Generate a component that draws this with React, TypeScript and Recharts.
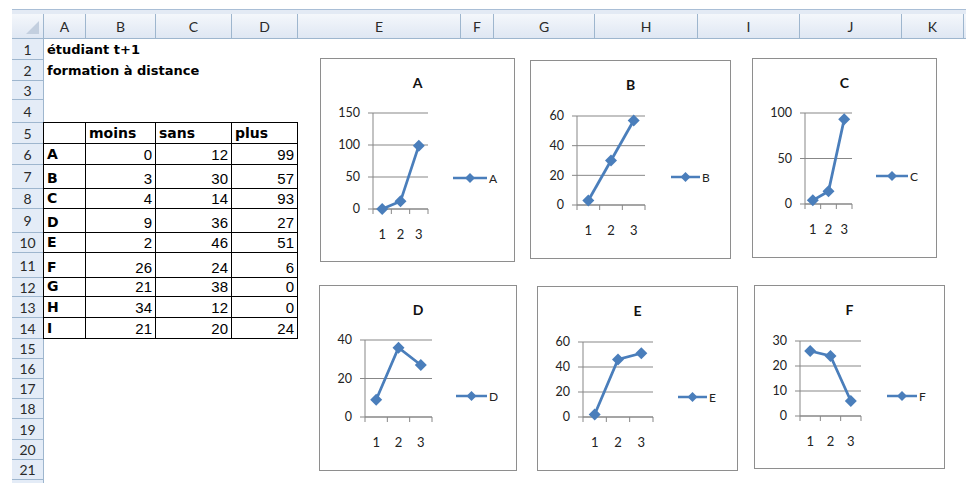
import React from 'react';
import { LineChart, Line, XAxis, YAxis, CartesianGrid, Legend } from 'recharts';

// table values (rows A..I)
const rowLabels = ['A', 'B', 'C', 'D', 'E', 'F', 'G', 'H', 'I'];
const moins = [0, 3, 4, 9, 2, 26, 21, 34, 21];
const sans = [12, 30, 14, 36, 46, 24, 38, 12, 20];
const plus = [99, 57, 93, 27, 51, 6, 0, 0, 24];
const columnHeads = ['moins', 'sans', 'plus'];
const sheetTitle = ['étudiant t+1', 'formation à distance'];

// chart axes
const xCategories = [1, 2, 3];
const ticksA = [0, 50, 100, 150];
const ticksB = [0, 20, 40, 60];
const ticksC = [0, 50, 100];
const ticksD = [0, 20, 40];
const ticksE = [0, 20, 40, 60];
const ticksF = [0, 10, 20, 30];

// sheet grid
const colLetters = ['A', 'B', 'C', 'D', 'E', 'F', 'G', 'H', 'I', 'J', 'K', ''];
const colEdges = [44, 86, 156, 232, 298, 461, 494, 595, 698, 800, 902, 964, 1000];
const rowEdges = [39, 60, 81, 100, 123, 144, 165, 189, 209, 233, 253, 278, 297, 318, 339, 359, 379, 399, 419, 440, 460, 480, 501];

const SHEET_FONT = '"DejaVu Sans", Verdana, sans-serif';
const NUM_FONT = '"Liberation Sans Narrow", "Liberation Sans", Arial, sans-serif';
const UI_FONT = 'Lato, Calibri, "Open Sans", sans-serif';
const BLUE = '#4A7EBB';
const GRID = '#878787';
const HDR_BORDER = '#9EB6CE';
const HDR_BG = 'linear-gradient(#f4f7fb, #dfe7f3)';
const ROW_BG = '#e4ecf7';

// layout of the six chart objects (box in page px, plot/legend relative to box)
const CHARTS = [
  { idx: 0, ticks: ticksA, box: { x: 320, y: 58, w: 195, h: 204 }, plot: { l: 53, r: 108, t: 55, b: 151 }, lg: { x: 133, y: 120, len: 34 } },
  { idx: 1, ticks: ticksB, box: { x: 530, y: 60, w: 201, h: 199 }, plot: { l: 47, r: 115, t: 56, b: 145 }, lg: { x: 141, y: 117, len: 29 } },
  { idx: 2, ticks: ticksC, box: { x: 752, y: 58, w: 185, h: 200 }, plot: { l: 53, r: 100, t: 55, b: 146 }, lg: { x: 124, y: 118, len: 32 } },
  { idx: 3, ticks: ticksD, box: { x: 319, y: 285, w: 198, h: 186 }, plot: { l: 46, r: 113, t: 55, b: 132 }, lg: { x: 137, y: 111, len: 31 } },
  { idx: 4, ticks: ticksE, box: { x: 537, y: 286, w: 201, h: 185 }, plot: { l: 46, r: 116, t: 56, b: 131 }, lg: { x: 141, y: 111, len: 29 } },
  { idx: 5, ticks: ticksF, box: { x: 754, y: 285, w: 191, h: 184 }, plot: { l: 46, r: 107, t: 56, b: 131 }, lg: { x: 133, y: 111, len: 30 } },
];

const xTicks = [...xCategories.map((c) => c - 0.5), ...xCategories, xCategories[xCategories.length - 1] + 0.5].sort((a, b) => a - b);

const diamond = (cx: number, cy: number, r: number) =>
  `${cx},${cy - r} ${cx + r},${cy} ${cx},${cy + r} ${cx - r},${cy}`;

const XTick = (props: any) => {
  const { x, y, payload } = props;
  const v = payload.value;
  if (Number.isInteger(v)) {
    return (
      <text x={x} y={y + 25} textAnchor="middle" dominantBaseline="central" fill="#222" fontSize={13} fontFamily={UI_FONT}>
        {v}
      </text>
    );
  }
  return <line x1={x} x2={x} y1={y} y2={y + 5} stroke={GRID} />;
};

const DiamondDot = (props: any) => {
  const { cx, cy, index } = props;
  if (cx == null || cy == null) return <g key={index} />;
  return <polygon key={index} points={diamond(cx, cy, 6)} fill={BLUE} />;
};

const LegendContent = ({ payload, len }: any) => {
  const item = payload && payload[0];
  const color = item?.color || BLUE;
  return (
    <div style={{ display: 'flex', alignItems: 'center', height: 16, fontFamily: UI_FONT, fontSize: 12, color: '#222', whiteSpace: 'nowrap' }}>
      <svg width={len} height={12}>
        <line x1={0} y1={6} x2={len} y2={6} stroke={color} strokeWidth={2.5} />
        <polygon points={diamond(len / 2, 6, 5)} fill={color} />
      </svg>
      <span style={{ marginLeft: 2 }}>{item?.value}</span>
    </div>
  );
};

const SmallChart = ({ cfg }: any) => {
  const { idx, ticks, box, plot, lg } = cfg;
  const name = rowLabels[idx];
  const values = [moins[idx], sans[idx], plus[idx]];
  const data = xCategories.map((c, i) => ({ x: c, v: values[i] }));
  const yW = 40;
  const xH = 30;
  return (
    <div style={{ position: 'absolute', left: box.x, top: box.y, width: box.w, height: box.h, background: '#fff', boxShadow: 'inset 0 0 0 1px #8e8e8e' }}>
      <div style={{ position: 'absolute', left: 0, top: 16, width: '100%', textAlign: 'center', fontFamily: UI_FONT, fontWeight: 700, fontSize: 14, lineHeight: '18px', color: '#111' }}>
        {name}
      </div>
      <LineChart
        width={box.w}
        height={box.h}
        data={data}
        margin={{ top: plot.t, bottom: box.h - plot.b - xH, left: plot.l - yW, right: box.w - plot.r }}
      >
        <CartesianGrid vertical={false} stroke={GRID} />
        <XAxis
          dataKey="x"
          type="number"
          domain={[xTicks[0], xTicks[xTicks.length - 1]]}
          ticks={xTicks}
          interval={0}
          height={xH}
          tickLine={false}
          tickSize={0}
          tickMargin={0}
          axisLine={{ stroke: GRID }}
          tick={<XTick />}
          allowDataOverflow
        />
        <YAxis
          type="number"
          domain={[ticks[0], ticks[ticks.length - 1]]}
          ticks={ticks}
          interval={0}
          width={yW}
          tickSize={5}
          tickMargin={8}
          axisLine={{ stroke: GRID }}
          tickLine={{ stroke: GRID }}
          tick={{ fill: '#222', fontSize: 12.5, fontFamily: UI_FONT }}
        />
        <Legend
          align="center"
          verticalAlign="middle"
          layout="horizontal"
          wrapperStyle={{ left: lg.x, top: lg.y - 8, width: 'auto', height: 16 }}
          content={(p: any) => <LegendContent payload={p.payload} len={lg.len} />}
        />
        <Line
          type="linear"
          dataKey="v"
          name={name}
          stroke={BLUE}
          strokeWidth={2.75}
          dot={DiamondDot}
          activeDot={false}
          isAnimationActive={false}
        />
      </LineChart>
    </div>
  );
};

const Sheet = () => {
  const hdrText: React.CSSProperties = { fontFamily: UI_FONT, fontSize: 14, color: '#2a2a2a' };
  const cells: React.ReactNode[] = [];
  // table rows 5..14
  for (let r = 0; r < 10; r++) {
    const rowNum = 5 + r;
    const top = rowEdges[rowNum - 1];
    const h = rowEdges[rowNum] - top;
    for (let c = 0; c < 4; c++) {
      const left = colEdges[c];
      const w = colEdges[c + 1] - left;
      let text: string | number = '';
      let bold = false;
      if (r === 0) {
        text = c === 0 ? '' : columnHeads[c - 1];
        bold = true;
      } else if (c === 0) {
        text = rowLabels[r - 1];
        bold = true;
      } else {
        text = [moins, sans, plus][c - 1][r - 1];
      }
      cells.push(
        <div
          key={`t${r}-${c}`}
          style={{
            position: 'absolute',
            left: left - 1,
            top: top - 1,
            width: w + 1,
            height: h + 1,
            border: '1px solid #000',
            boxSizing: 'border-box',
            display: 'flex',
            alignItems: 'flex-end',
            justifyContent: bold ? 'flex-start' : 'flex-end',
            padding: bold ? '0 0 3px 3px' : '0 3px 2px 0',
            fontFamily: bold ? SHEET_FONT : NUM_FONT,
            fontWeight: bold ? 700 : 400,
            fontSize: bold ? 14 : 15,
            lineHeight: 1,
            color: '#000',
          }}
        >
          {text}
        </div>
      );
    }
  }
  return (
    <>
      <div style={{ position: 'absolute', left: 12, top: 9, width: 954, height: 5, background: '#e3eaf4', borderTop: '1px solid #a9bed6', boxSizing: 'border-box' }} />
      {/* corner */}
      <div style={{ position: 'absolute', left: 12, top: 14, width: 32, height: 25, background: HDR_BG, borderRight: `1px solid ${HDR_BORDER}`, borderBottom: `1px solid ${HDR_BORDER}`, boxSizing: 'border-box' }}>
        <svg width={31} height={24} style={{ position: 'absolute', left: 0, top: 0 }}>
          <polygon points="27,7 27,20 14,20" fill="#c3cfdf" />
        </svg>
      </div>
      {colLetters.map((c, i) => (
        <div
          key={`col${i}`}
          style={{
            position: 'absolute',
            left: colEdges[i],
            top: 14,
            width: colEdges[i + 1] - colEdges[i],
            height: 25,
            background: HDR_BG,
            borderRight: `1px solid ${HDR_BORDER}`,
            borderBottom: `1px solid ${HDR_BORDER}`,
            boxSizing: 'border-box',
            display: 'flex',
            alignItems: 'center',
            justifyContent: 'center',
            ...hdrText,
          }}
        >
          {c}
        </div>
      ))}
      {rowEdges.slice(0, -1).map((top, i) => (
        <div
          key={`row${i}`}
          style={{
            position: 'absolute',
            left: 12,
            top,
            width: 32,
            height: rowEdges[i + 1] - top,
            background: ROW_BG,
            borderRight: `1px solid ${HDR_BORDER}`,
            borderBottom: `1px solid ${HDR_BORDER}`,
            boxSizing: 'border-box',
            display: 'flex',
            alignItems: 'center',
            justifyContent: 'center',
            ...hdrText,
          }}
        >
          {i + 1 <= 21 ? i + 1 : ''}
        </div>
      ))}
      {sheetTitle.map((t, i) => (
        <div
          key={`title${i}`}
          style={{ position: 'absolute', left: 47, top: rowEdges[i] + 3, fontFamily: SHEET_FONT, fontWeight: 700, fontSize: 13, lineHeight: '15px', whiteSpace: 'nowrap', color: '#000' }}
        >
          {t}
        </div>
      ))}
      {cells}
    </>
  );
};

export default function App() {
  return (
    <div style={{ position: 'absolute', left: 0, top: 0, width: 966, height: 483, overflow: 'hidden', background: '#fff' }}>
      <Sheet />
      {CHARTS.map((cfg) => (
        <SmallChart key={cfg.idx} cfg={cfg} />
      ))}
    </div>
  );
}
